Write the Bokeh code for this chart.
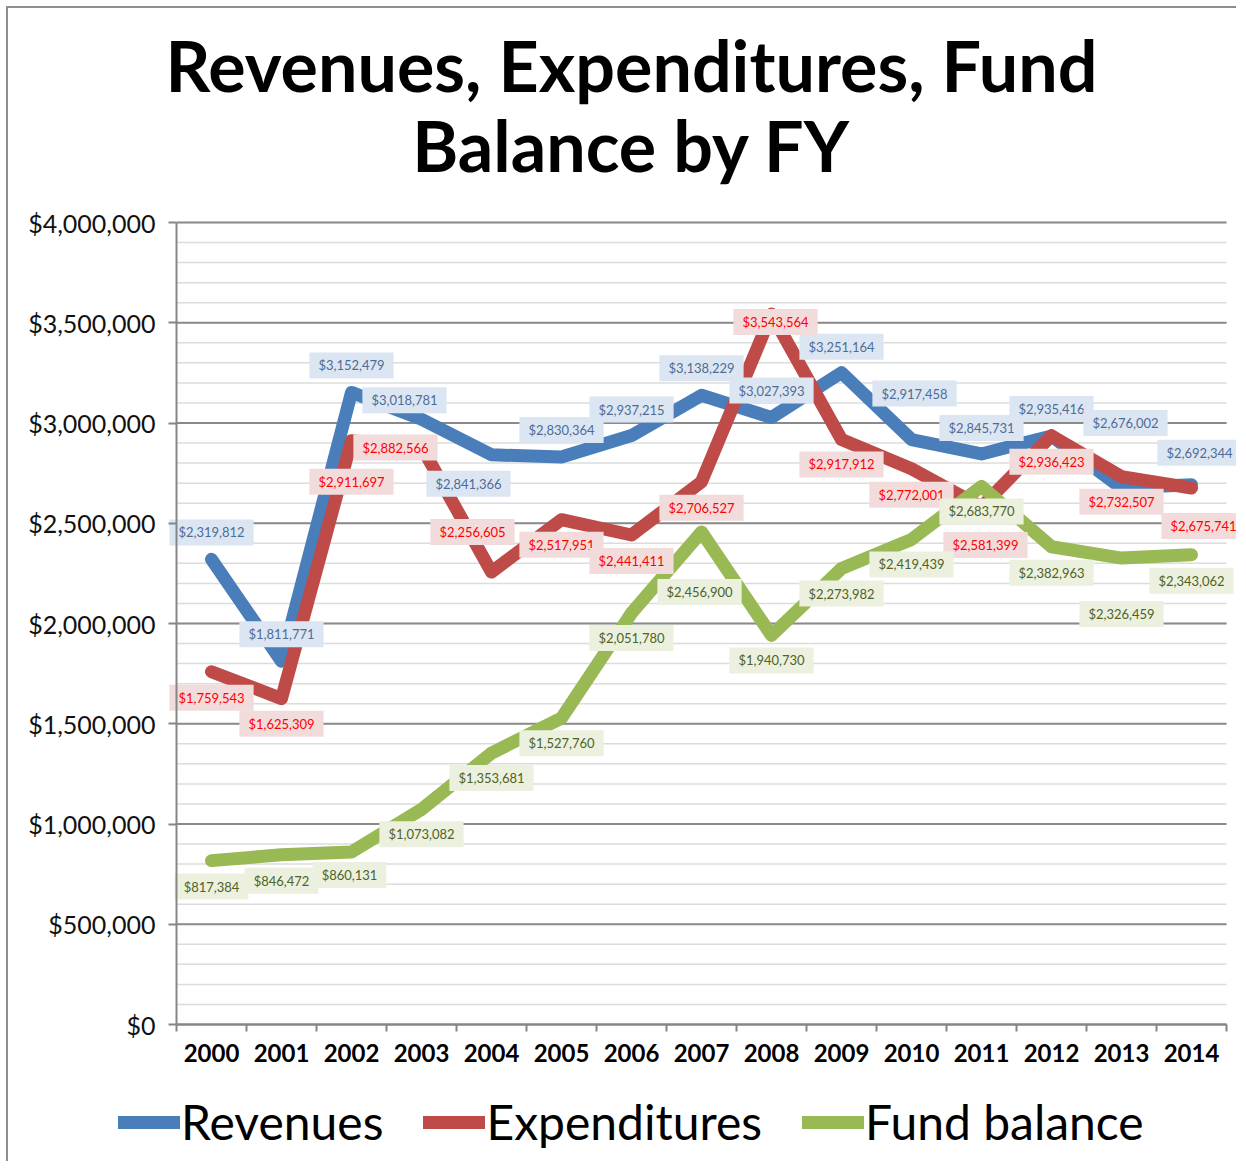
from bokeh.plotting import figure
from bokeh.models import (ColumnDataSource, FixedTicker, NumeralTickFormatter,
                          Legend, LegendItem, Range1d)
from bokeh.core.properties import value
from bokeh.embed import file_html
from bokeh.resources import INLINE

years = ["2000", "2001", "2002", "2003", "2004", "2005", "2006", "2007",
         "2008", "2009", "2010", "2011", "2012", "2013", "2014"]
revenues = [2319812, 1811771, 3152479, 3018781, 2841366, 2830364, 2937215,
            3138229, 3027393, 3251164, 2917458, 2845731, 2935416, 2676002, 2692344]
expenditures = [1759543, 1625309, 2911697, 2882566, 2256605, 2517951, 2441411,
                2706527, 3543564, 2917912, 2772001, 2581399, 2936423, 2732507, 2675741]
fund_balance = [817384, 846472, 860131, 1073082, 1353681, 1527760, 2051780,
                2456900, 1940730, 2273982, 2419439, 2683770, 2382963, 2326459, 2343062]

y_ticks = [0, 500000, 1000000, 1500000, 2000000, 2500000, 3000000, 3500000, 4000000]
y_minor = [i * 100000 for i in range(41)]
title_lines = ["Revenues, Expenditures, Fund", "Balance by FY"]

# data-label placement (screen px, relative to each point; +y is down)
rev_lbl_dx = [0, 0, 0, -17, -23, 0, 0, 0, 0, 0, 3, 0, 0, 4, 8]
rev_lbl_dy = [-27, -27, -27, -19, 29, -27, -26, -27, -27, -26, -46, -26, -27, -65, -32]
exp_lbl_dx = [0, 0, 0, -26, -19, 0, 0, 0, 4, 0, 0, 4, 0, 0, 12]
exp_lbl_dy = [26, 25, 41, 1, -40, 25, 26, 26, 8, 25, 26, 38, 26, 25, 38]
fund_lbl_dx = [0, 0, -2, 0, 0, 0, 0, -2, 0, 0, 0, 0, 0, 0, 0]
fund_lbl_dy = [26, 26, 23, 25, 25, 25, 25, 60, 25, 25, 25, 25, 26, 56, 26]

FONT = "Lato"
n = len(years)
xs = list(range(n))
Y_MAX = 4000000

# layout (page pixels)
W, H = 1230, 1155
CANVAS_L, CANVAS_T = 8, 8
PLOT_L, PLOT_R, PLOT_T, PLOT_B = 176, 1226, 222, 1024
TITLE_CX = 631
TITLE_BASELINES = [64, 144]
px_x = (PLOT_R - PLOT_L) / n
px_y = (PLOT_B - PLOT_T) / Y_MAX
x_lo = -0.5 - (PLOT_L - CANVAS_L) / px_x
x_hi = n - 0.5 + (CANVAS_L + W - PLOT_R) / px_x
y_lo = -(CANVAS_T + H - PLOT_B) / px_y
y_hi = Y_MAX + (PLOT_T - CANVAS_T) / px_y

p = figure(width=W, height=H, output_backend="svg", toolbar_location=None,
           x_range=Range1d(x_lo, x_hi), y_range=Range1d(y_lo, y_hi),
           min_border=0)
p.min_border_left = p.min_border_right = p.min_border_top = p.min_border_bottom = 0
p.styles = {"border-left": "2px solid #8E8E8E", "border-top": "2px solid #8E8E8E",
            "margin-left": "6px", "margin-top": "6px"}
p.outline_line_color = None
p.background_fill_color = "white"
p.border_fill_color = "white"
p.xgrid.grid_line_color = None
p.ygrid.grid_line_color = None

# gridlines
p.segment(x0=-0.5, x1=n - 0.5, y0=y_minor, y1=y_minor, line_color="#DCDCDC", line_width=1.5)
p.segment(x0=-0.5, x1=n - 0.5, y0=y_ticks, y1=y_ticks, line_color="#8A8A8A", line_width=2)

# axes
xa = p.xaxis[0]
xa.fixed_location = 0
xa.bounds = (-0.5, n - 0.5)
xa.ticker = FixedTicker(ticks=xs, minor_ticks=[i - 0.5 for i in range(n + 1)])
xa.major_label_overrides = {i: y for i, y in enumerate(years)}
xa.major_tick_line_color = None
xa.major_tick_out = 7
xa.major_tick_in = 0
xa.minor_tick_line_color = "#868686"
xa.minor_tick_line_width = 2
xa.minor_tick_out = 7
xa.minor_tick_in = 0
xa.axis_line_color = "#868686"
xa.axis_line_width = 2
xa.major_label_text_font = FONT
xa.major_label_text_font_style = "bold"
xa.major_label_text_font_size = "24px"
xa.major_label_text_color = "#000000"
xa.major_label_standoff = 12

ya = p.yaxis[0]
ya.fixed_location = -0.5
ya.bounds = (0, Y_MAX)
ya.ticker = FixedTicker(ticks=y_ticks, minor_ticks=y_minor)
ya.formatter = NumeralTickFormatter(format="$0,0")
ya.minor_tick_line_color = None
ya.major_tick_line_color = "#868686"
ya.major_tick_line_width = 2
ya.major_tick_out = 8
ya.major_tick_in = 0
ya.axis_line_color = "#868686"
ya.axis_line_width = 2
ya.major_label_text_font = FONT
ya.major_label_text_font_size = "25px"
ya.major_label_text_color = "#111111"
ya.major_label_standoff = 13

# title
tx = -0.5 + (TITLE_CX - PLOT_L) / px_x
p.text(x=[tx, tx], y=[Y_MAX + (PLOT_T - b) / px_y for b in TITLE_BASELINES],
       text=title_lines, text_align="center", text_baseline="alphabetic",
       text_font=value(FONT), text_font_style="bold", text_font_size="70px",
       text_color="#000000")

series = [
    ("Revenues", revenues, "#4A7EBB", rev_lbl_dx, rev_lbl_dy, "#4E6C95", "#DCE6F2"),
    ("Expenditures", expenditures, "#BE4B48", exp_lbl_dx, exp_lbl_dy, "#FF0000", "#F2DCDB"),
    ("Fund balance", fund_balance, "#98B954", fund_lbl_dx, fund_lbl_dy, "#4F6228", "#EBF1DE"),
]

items = []
for name, vals, color, *_ in series:
    src = ColumnDataSource(dict(x=xs, y=vals))
    r = p.line("x", "y", source=src, line_color=color, line_width=13,
               line_join="round", line_cap="round")
    items.append(LegendItem(label=name, renderers=[r]))

for name, vals, color, dx, dy, tcol, bg in series:
    lsrc = ColumnDataSource(dict(x=xs, y=vals, dx=dx, dy=dy,
                                 label=["${:,}".format(v) for v in vals]))
    p.text("x", "y", text="label", source=lsrc, x_offset="dx", y_offset="dy",
           text_align="center", text_baseline="middle", text_font=value(FONT),
           text_font_size="13px", text_color=tcol,
           background_fill_color=bg, padding=dict(left=9, right=9, top=5, bottom=5))

legend = Legend(items=items, orientation="horizontal", location=(110, 13),
                label_text_font=FONT, label_text_font_size="48px",
                label_text_color="#000000", glyph_width=62, glyph_height=40,
                label_standoff=1, spacing=40, padding=0, margin=0,
                border_line_color=None, background_fill_alpha=0)
p.add_layout(legend)

open("out.html", "w").write(file_html(p, INLINE))
